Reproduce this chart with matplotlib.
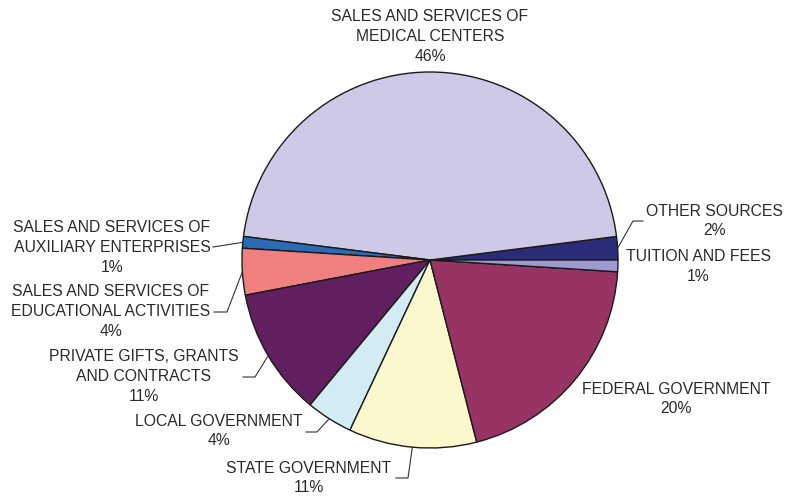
import matplotlib
matplotlib.use("Agg")
import matplotlib.pyplot as plt
import numpy as np

plt.rcParams['font.family'] = ['Liberation Sans', 'DejaVu Sans']

# Revenue sources, counter-clockwise from 3 o'clock
categories = [
    "OTHER SOURCES",
    "SALES AND SERVICES OF\nMEDICAL CENTERS",
    "SALES AND SERVICES OF\nAUXILIARY ENTERPRISES",
    "SALES AND SERVICES OF\nEDUCATIONAL ACTIVITIES",
    "PRIVATE GIFTS, GRANTS\nAND CONTRACTS",
    "LOCAL GOVERNMENT",
    "STATE GOVERNMENT",
    "FEDERAL GOVERNMENT",
    "TUITION AND FEES",
]
shares = [2, 46, 1, 4, 11, 4, 11, 20, 1]
colors = ["#2B2B7A", "#CDC9E6", "#2D6AB5", "#F08080", "#611F60",
          "#D3ECF3", "#FAF8CC", "#983464", "#9C9ACE"]

W, H = 786, 498
CX, CY, R = 430, 260, 188

fig = plt.figure(figsize=(W / 100, H / 100), dpi=100)
ax = fig.add_axes([(CX - R) / W, (H - CY - R) / H, 2 * R / W, 2 * R / H])

wedges, _ = ax.pie(shares, colors=colors, startangle=0, counterclock=True,
                   radius=1, wedgeprops=dict(edgecolor="#1a1a1a", linewidth=1.0))
ax.set_xlim(-1, 1)
ax.set_ylim(-1, 1)
ax.set_aspect("equal")
ax.axis("off")


def px(x, y):
    """Figure pixel position (from top-left) to data coordinates."""
    return (x - CX) / R, (CY - y) / R


# label block centre (pixels) and optional leader path (text end, elbow)
layout = [
    ((714, 221), [(643, 221), (633, 221)]),
    ((430, 36.5), None),
    ((112, 247.5), [(213, 247)]),
    ((111, 311.5), [(214, 312), (227, 312)]),
    ((144, 376.5), [(243, 377), (255, 377)]),
    ((219, 431), [(306, 432), (317, 432)]),
    ((309, 478), [(396, 478), (408, 478)]),
    ((676, 399), None),
    ((698, 266.5), None),
]

txt_color = "#2a2a2a"
for w, name, val, (pos, leader) in zip(wedges, categories, shares, layout):
    tx, ty = px(*pos)
    ax.text(tx, ty, f"{name}\n{val}%", ha="center", va="center",
            multialignment="center", fontsize=11.3, color=txt_color,
            linespacing=1.38, clip_on=False)
    if leader:
        mid = np.deg2rad((w.theta1 + w.theta2) / 2)
        pts = [px(*p) for p in leader] + [(np.cos(mid), np.sin(mid))]
        xs, ys = zip(*pts)
        ax.plot(xs, ys, color="#333333", lw=0.8, clip_on=False)

fig.savefig("out.png", dpi=100)
